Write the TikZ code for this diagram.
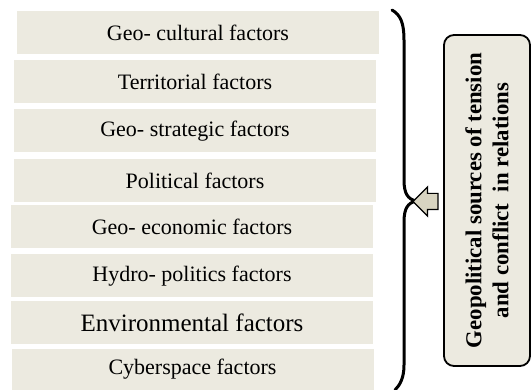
\documentclass[tikz,border=0pt]{standalone}
\usepackage{fontspec}
\setmainfont{Liberation Serif}
\usetikzlibrary{shapes.arrows}
\definecolor{boxfill}{HTML}{ECEAE0}
\definecolor{arrowfill}{HTML}{D8D4C1}
\tikzstyle{factor} = [rectangle, minimum width=181pt, minimum height=21.5pt, inner sep=0pt, text centered, fill=boxfill, font=\fontsize{11}{13}\selectfont]
\tikzstyle{source} = [rectangle, rounded corners=5pt, draw=black, line width=0.9pt, fill=boxfill, minimum width=165.5pt, minimum height=43pt, align=center, font=\bfseries\fontsize{11.4}{13.5}\selectfont]
\tikzstyle{brace} = [line width=1.5pt, line cap=round]
\tikzstyle{blockarrow} = [single arrow, shape border rotate=180, draw=black, fill=arrowfill, line width=0.6pt, inner xsep=0pt, inner ysep=3.75pt, minimum height=12.5pt, minimum width=14pt, single arrow head extend=3.25pt]

\begin{document}
\begin{tikzpicture}[x=0.5pt, y=-0.5pt]
            \useasboundingbox (0,0) rectangle (531,390);
            \node (factor1) [factor] at (198,32.5) {Geo- cultural factors};
            \node (factor2) [factor] at (195,81.5) {Territorial factors};
            \node (factor3) [factor] at (195,131) {Geo- strategic factors};
            \node (factor4) [factor] at (195,180.5) {Political factors};
            \node (factor5) [factor] at (192,226.5) {Geo- economic factors};
            \node (factor6) [factor] at (192,276) {Hydro- politics factors};
            \node (factor7) [factor, font=\fontsize{12.5}{14}\selectfont] at (192,323) {Environmental factors};
            \node (factor8) [factor, minimum height=20.5pt] at (192.5,369.5) {Cyberspace factors};
            % brace round all factors
            \coordinate (tip) at (416,201);
            \draw [brace] (392,10) .. controls (401,15) and (404,24) .. (404,40) -- (404,180)
                .. controls (404,194) and (408,199) .. (tip)
                .. controls (408,203) and (404,208) .. (404,222) -- (404,365)
                .. controls (404,378) and (400,385) .. (395,390);
            \node (sources) [source, rotate=90] at (487,200.5) {Geopolitical sources of tension\\and conflict~ in relations};
            \node (arrow) [blockarrow] at (429.5,201.5) {};
        \end{tikzpicture}
\end{document}
